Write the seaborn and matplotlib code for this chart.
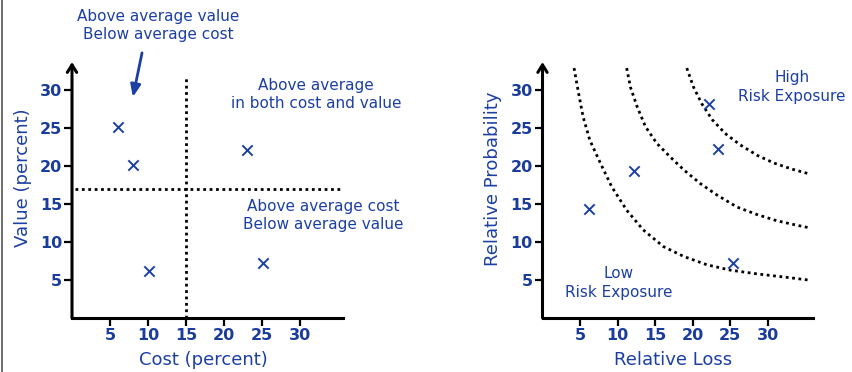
import matplotlib
matplotlib.use("Agg")
import matplotlib.pyplot as plt
import seaborn as sns
import pandas as pd
from matplotlib.lines import Line2D

sns.set_theme(style="white")
plt.rcParams["font.family"] = ["DejaVu Sans"]

BLUE = "#1c3fa3"
TICK_BLUE = "#1a3c9c"

# --- Cost / value quadrant data ---
cost = [6.0, 8.0, 10.1, 23.0, 25.1]
value = [25.2, 20.2, 6.2, 22.1, 7.3]
avg_cost = 15
avg_value = 17
ticks = [5, 10, 15, 20, 25, 30]

# --- Risk exposure data ---
rel_loss = [6.2, 12.2, 22.2, 23.3, 25.4]
rel_prob = [14.3, 19.3, 28.2, 22.2, 7.3]

# iso-risk contours (low, medium, high)
c1_x = [4.2, 4.8, 5.4, 6.3, 7.7, 9.2, 11.2, 13.4, 16.1, 18.8, 21.9, 25.0, 28.6, 32.1, 35.4]
c1_y = [32.9, 29.6, 26.5, 23.4, 20.4, 17.3, 14.2, 11.6, 9.4, 8.1, 7.0, 6.3, 5.8, 5.4, 5.0]
c2_x = [11.2, 11.7, 12.6, 13.7, 15.2, 17.0, 18.8, 21.0, 23.2, 25.9, 28.6, 31.2, 33.9, 35.4]
c2_y = [32.9, 30.4, 27.8, 25.2, 23.0, 21.2, 19.5, 17.7, 16.2, 14.6, 13.6, 12.8, 12.2, 11.9]
c3_x = [19.2, 20.1, 21.2, 22.6, 24.3, 26.3, 28.6, 30.8, 33.2, 35.4]
c3_y = [32.9, 30.4, 28.2, 26.1, 24.3, 22.8, 21.4, 20.4, 19.6, 19.0]

fig = plt.figure(figsize=(8.52, 3.72), dpi=100)
fig.patch.set_facecolor("white")

H = 372.0
W = 852.0
ax1 = fig.add_axes([72 / W, (H - 318) / H, 271 / W, 256 / H])
ax2 = fig.add_axes([542.5 / W, (H - 318) / H, 270.5 / W, 256 / H])

DOT = (0, (1, 1.3))
DOT_LW = 2.0


def style_axes(ax, xmax):
    ax.set_xlim(0, xmax)
    ax.set_ylim(0, 33.7)
    ax.set_facecolor("white")
    for s in ["top", "right", "left"]:
        ax.spines[s].set_visible(False)
    ax.spines["bottom"].set_linewidth(2.2)
    ax.spines["bottom"].set_color("black")
    ax.set_xticks(ticks)
    ax.set_yticks(ticks)
    ax.tick_params(axis="both", which="major", length=6, width=1.6,
                   color="black", labelcolor=TICK_BLUE, labelsize=11.5,
                   direction="out", left=True, bottom=True, pad=1)
    for lab in ax.get_xticklabels() + ax.get_yticklabels():
        lab.set_fontweight("bold")
    # y axis with open arrow head
    ax.annotate("", xy=(0, 1.0), xytext=(0, 0), xycoords="axes fraction",
                textcoords="axes fraction",
                arrowprops=dict(arrowstyle="->,head_length=0.45,head_width=0.28",
                                lw=2.2, color="black", shrinkA=0, shrinkB=0),
                annotation_clip=False)


def place_labels(ax, xlabel, ylabel, xpos, ypos):
    ax.set_xlabel(xlabel, color=BLUE, fontsize=13)
    ax.set_ylabel(ylabel, color=BLUE, fontsize=13)
    ax.xaxis.label.set_va("center")
    ax.yaxis.label.set_va("center")
    ax.xaxis.set_label_coords(*xpos)
    ax.yaxis.set_label_coords(*ypos)


# ---------- left: cost vs value ----------
style_axes(ax1, 35.6)
ax1.vlines(avg_cost, 0, 31.7, colors="black", linestyles=DOT, lw=DOT_LW)
ax1.hlines(avg_value, 0.4, 35.6, colors="black", linestyles=DOT, lw=DOT_LW)
df1 = pd.DataFrame({"cost": cost, "value": value})
sns.scatterplot(data=df1, x="cost", y="value", ax=ax1, marker="x", s=55,
                color=BLUE, linewidth=1.4, zorder=5)
place_labels(ax1, "Cost (percent)", "Value (percent)",
             (0.483, -0.164), (-0.18, 0.547))

txt = dict(color=BLUE, fontsize=11, ha="center", va="center",
           linespacing=1.3, clip_on=False)
ax1.text(11.3, 38.5, "Above average value\nBelow average cost", **txt)
ax1.text(32.1, 29.4, "Above average\nin both cost and value", **txt)
ax1.text(33.0, 13.5, "Above average cost\nBelow average value", **txt)
ax1.annotate("", xy=(8.0, 29.1), xytext=(9.2, 34.9), xycoords="data",
             arrowprops=dict(arrowstyle="-|>,head_length=0.6,head_width=0.25",
                             lw=2.0, color=BLUE, shrinkA=0, shrinkB=0),
             annotation_clip=False)

# ---------- right: risk exposure ----------
style_axes(ax2, 36)
for cx, cy in [(c1_x, c1_y), (c2_x, c2_y), (c3_x, c3_y)]:
    dfc = pd.DataFrame({"loss": cx, "prob": cy})
    sns.lineplot(data=dfc, x="loss", y="prob", ax=ax2, sort=False,
                 color="black", lw=DOT_LW, linestyle=DOT)
df2 = pd.DataFrame({"loss": rel_loss, "prob": rel_prob})
sns.scatterplot(data=df2, x="loss", y="prob", ax=ax2, marker="x", s=55,
                color=BLUE, linewidth=1.4, zorder=5)
place_labels(ax2, "Relative Loss", "Relative Probability",
             (0.484, -0.164), (-0.183, 0.543))
ax2.text(33.2, 30.4, "High\nRisk Exposure", **txt)
ax2.text(10.1, 4.6, "Low\nRisk Exposure", **txt)

# thin frame edge on the left of the figure
fig.add_artist(Line2D([1.5 / W, 1.5 / W], [0, 1], transform=fig.transFigure,
                      color="#555555", lw=1.2))

fig.savefig("out.png", dpi=100, facecolor="white")
